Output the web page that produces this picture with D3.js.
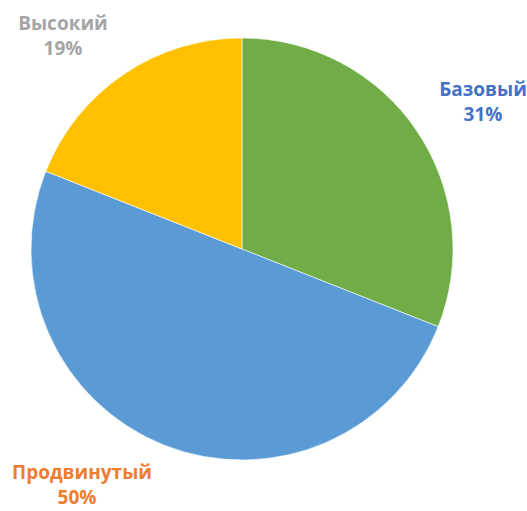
<!doctype html>
<html lang="ru">
<head>
  <meta charset="utf-8">
  <script src="https://d3js.org/d3.v7.min.js"></script>
  <style>
    body { margin: 0; background: #fff; }
    text { font-family: "Open Sans", "Noto Sans", sans-serif; font-weight: bold; }
  </style>
</head>
<body>
  <svg id="chart"></svg>
  <script>
    // данные диаграммы
    var categories = ["Базовый", "Продвинутый", "Высокий"];
    var values = [31, 50, 19];
    var sliceColors = ["#70AD47", "#5B9BD5", "#FFC000"];
    var labelColors = ["#4472C4", "#ED7D31", "#A5A5A5"];

    var width = 527, height = 511;
    var cx = 242, cy = 249, radius = 211;

    var svg = d3.select("#chart")
      .attr("width", width)
      .attr("height", height);

    var data = categories.map((c, i) => ({ name: c, value: values[i], color: sliceColors[i], label: labelColors[i] }));

    var pie = d3.pie().sort(null).value(d => d.value);
    var arc = d3.arc().innerRadius(0).outerRadius(radius);

    var g = svg.append("g").attr("transform", `translate(${cx},${cy})`);

    g.selectAll("path")
      .data(pie(data))
      .join("path")
        .attr("d", arc)
        .attr("fill", d => d.data.color)
        .attr("stroke", "#fff")
        .attr("stroke-width", 0.6);

    // подписи снаружи круга: [x, y первой строки, сдвиг второй строки по x]
    var labelPos = [[241, -153, 0], [-160, 230, -5], [-179, -219, 0]];

    var labels = g.selectAll("text.lbl")
      .data(pie(data))
      .join("text")
        .attr("class", "lbl")
        .attr("text-anchor", "middle")
        .attr("font-size", 19)
        .attr("fill", d => d.data.label)
        .attr("transform", (d, i) => `translate(${labelPos[i][0]},${labelPos[i][1]})`);

    labels.append("tspan")
      .attr("x", 0)
      .text(d => d.data.name);
    labels.append("tspan")
      .attr("x", (d, i) => labelPos[i][2])
      .attr("dy", 25)
      .text(d => d.data.value + "%");
  </script>
</body>
</html>
